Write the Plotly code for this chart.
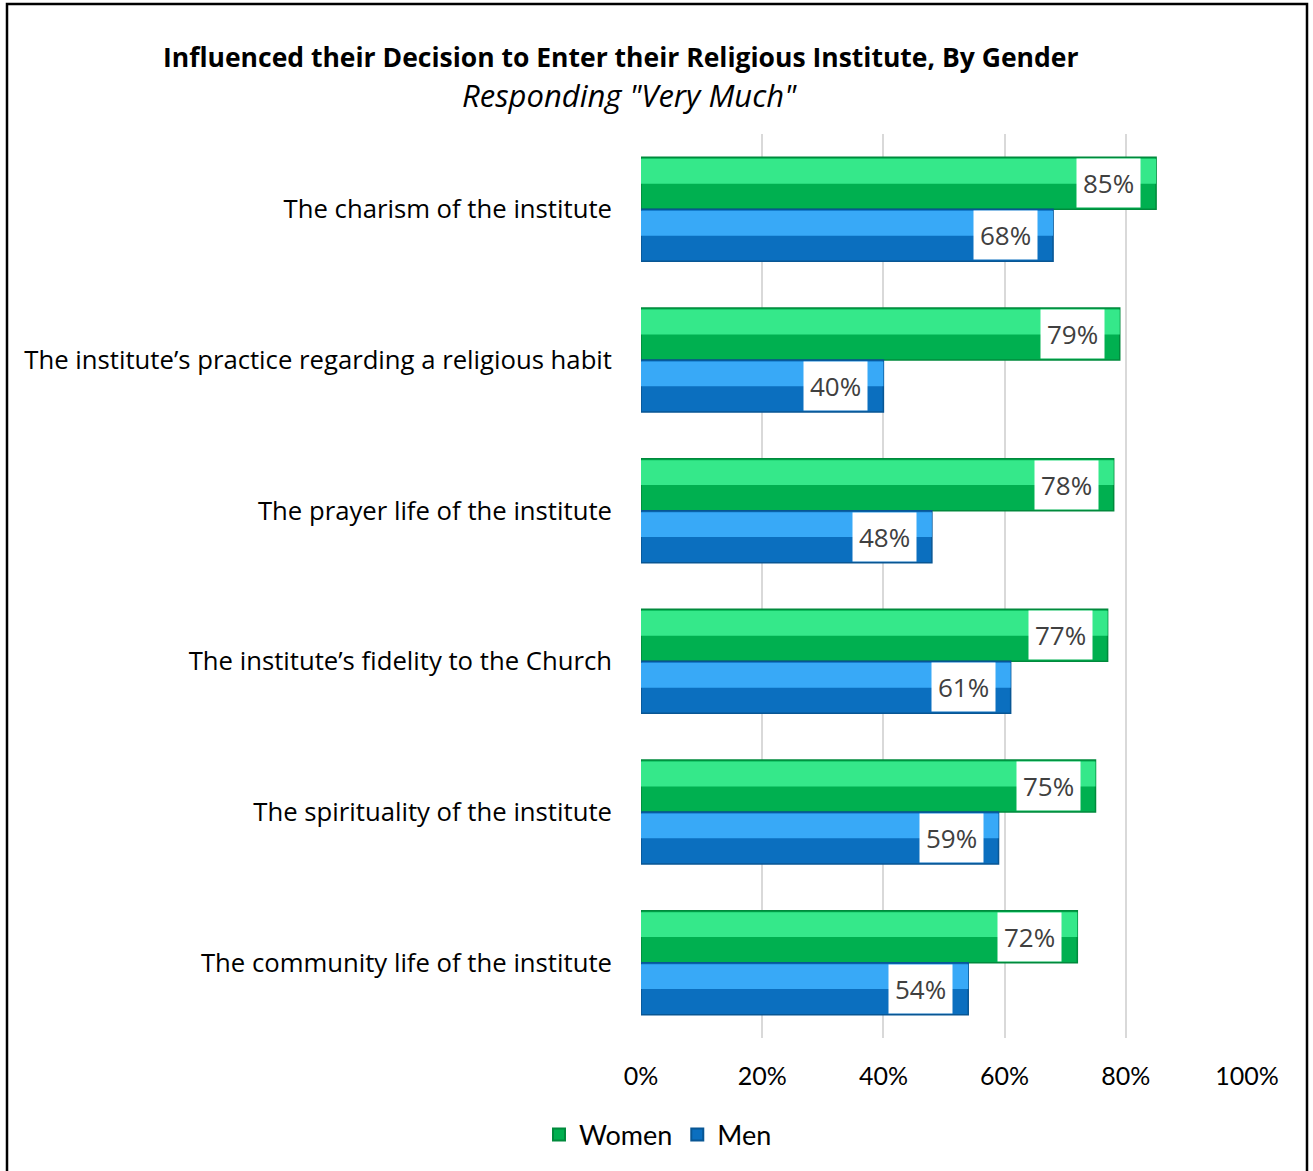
import plotly.graph_objects as go

# Survey items, top to bottom
categories = [
    "The charism of the institute",
    "The institute\u2019s practice regarding a religious habit",
    "The prayer life of the institute",
    "The institute\u2019s fidelity to the Church",
    "The spirituality of the institute",
    "The community life of the institute",
]
women = [85, 79, 78, 77, 75, 72]
men = [68, 40, 48, 61, 59, 54]
x_ticks = [0, 20, 40, 60, 80, 100]
x_tick_labels = ["0%", "20%", "40%", "60%", "80%", "100%"]

title_text = "Influenced their Decision to Enter their Religious Institute, By Gender"
subtitle_text = 'Responding "Very Much"'

# Page geometry (pixels)
W, H = 1313, 1171
ML, MR, MT, MB = 641, 66, 134, 133
PW, PH = W - ML - MR, H - MT - MB

BAR_W = 0.345      # each bar's thickness in category units
HL_W = 0.165       # lighter upper facet of each bar

GREEN, GREEN_HI, GREEN_EDGE = "#00b050", "#35e88a", "#008a3c"
BLUE, BLUE_HI, BLUE_EDGE = "#0b6fbf", "#38a9f7", "#085694"

fig = go.Figure()

# Base bars (Women above, Men below within each category)
fig.add_trace(go.Bar(
    name="Women", y=categories, x=women, orientation="h",
    width=BAR_W, offset=-BAR_W,
    marker=dict(color=GREEN, line=dict(color=GREEN_EDGE, width=1.5)),
    hoverinfo="skip",
))
fig.add_trace(go.Bar(
    name="Men", y=categories, x=men, orientation="h",
    width=BAR_W, offset=0,
    marker=dict(color=BLUE, line=dict(color=BLUE_EDGE, width=1.5)),
    hoverinfo="skip",
))
# Lighter upper facets for a bevelled look
fig.add_trace(go.Bar(
    y=categories, x=women, orientation="h",
    width=HL_W, offset=-BAR_W + 0.01,
    marker=dict(color=GREEN_HI, line=dict(width=0)),
    showlegend=False, hoverinfo="skip",
))
fig.add_trace(go.Bar(
    y=categories, x=men, orientation="h",
    width=HL_W, offset=0.01,
    marker=dict(color=BLUE_HI, line=dict(width=0)),
    showlegend=False, hoverinfo="skip",
))

# Value labels in white boxes near each bar's end
row_px = PH / len(categories)
shift = BAR_W / 2 * row_px
annotations = []
for cat, w, m in zip(categories, women, men):
    for val, ys in ((w, shift), (m, -shift)):
        annotations.append(dict(
            x=val, y=cat, xref="x", yref="y",
            text=f"{val}%", showarrow=False,
            xanchor="right", yanchor="middle",
            xshift=-15, yshift=ys,
            bgcolor="white", borderpad=6,
            font=dict(family="Open Sans", size=26, color="#404040"),
        ))

# Title and subtitle
cx = (620 - ML) / PW
annotations.append(dict(
    x=cx, y=(H - MB - 57) / PH, xref="paper", yref="paper",
    text=f"<b>{title_text}</b>", showarrow=False,
    xanchor="center", yanchor="middle",
    font=dict(family="Open Sans", size=26.5, color="black"),
))
annotations.append(dict(
    x=(629 - ML) / PW, y=(H - MB - 95) / PH, xref="paper", yref="paper",
    text=f"<i>{subtitle_text}</i>", showarrow=False,
    xanchor="center", yanchor="middle",
    font=dict(family="Open Sans", size=31, color="black"),
))

# Outer chart border
shapes = [dict(
    type="rect", xref="paper", yref="paper",
    x0=(7 - ML) / PW, x1=(1307 - ML) / PW,
    y0=(H - MB - 1180) / PH, y1=(H - MB - 4) / PH,
    line=dict(color="black", width=2.5), fillcolor="rgba(0,0,0,0)",
    layer="below",
)]

fig.update_layout(
    width=W, height=H,
    margin=dict(l=ML, r=MR, t=MT, b=MB, autoexpand=False),
    paper_bgcolor="white", plot_bgcolor="white",
    barmode="overlay",
    showlegend=True,
    legend=dict(
        orientation="h", x=(658 - ML) / PW, y=-97 / PH,
        xanchor="center", yanchor="middle",
        font=dict(family="Lato", size=27, color="black"),
        itemsizing="constant", traceorder="normal",
    ),
    annotations=annotations,
    shapes=shapes,
    xaxis=dict(
        range=[0, 100], tickvals=x_ticks, ticktext=x_tick_labels,
        showgrid=True, gridcolor="#d9d9d9", gridwidth=2,
        zeroline=False, showline=False, ticks="",
        ticklabelstandoff=21,
        tickfont=dict(family="Lato", size=25, color="black"),
        fixedrange=True,
    ),
    yaxis=dict(
        categoryorder="array", categoryarray=categories,
        range=[len(categories) - 0.5, -0.5],
        showgrid=False, zeroline=False, showline=False, ticks="",
        ticklabelstandoff=28,
        tickfont=dict(family="Open Sans", size=25.7, color="black"),
        fixedrange=True,
    ),
)

fig.write_html("out.html")
